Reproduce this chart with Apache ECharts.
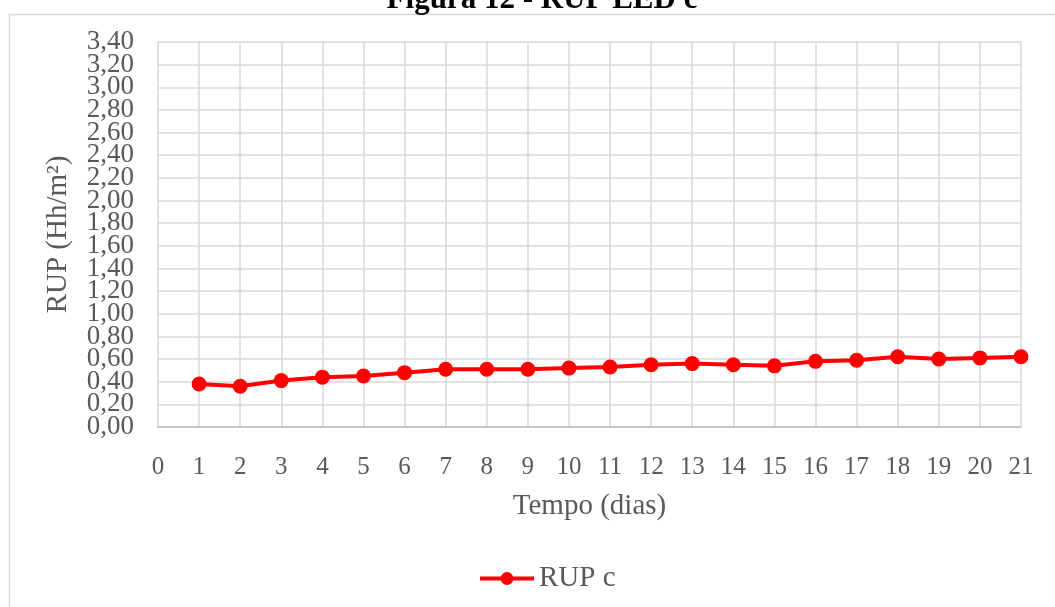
<!DOCTYPE html>
<html>
<head>
<meta charset="utf-8">
<script src="https://cdn.jsdelivr.net/npm/echarts@6/dist/echarts.min.js"></script>
<style>html,body{margin:0;padding:0;background:#fff;}#c{width:1055px;height:607px;}</style>
</head>
<body>
<div id="c"></div>
<script>
const days = [1,2,3,4,5,6,7,8,9,10,11,12,13,14,15,16,17,18,19,20,21];
const rupC = [0.38,0.36,0.41,0.44,0.45,0.48,0.51,0.51,0.51,0.52,0.53,0.55,0.56,0.55,0.54,0.58,0.59,0.62,0.60,0.61,0.62];
const seriesName = 'RUP c';
const titleText = 'Figura 12 - RUP LED c';
const xName = 'Tempo (dias)';
const yName = 'RUP (Hh/m²)';

const font = '"Liberation Serif","Times New Roman",serif';
const fmt = v => v.toFixed(2).replace('.', ',');
const yLabel = {
  fontFamily: font, fontSize: 27, color: '#595959', margin: 24, formatter: fmt
};
const chart = echarts.init(document.getElementById('c'));
chart.setOption({
  animation: false,
  backgroundColor: '#fff',
  graphic: [{
    type: 'rect', left: 7, top: 12, z: -1,
    shape: { width: 1100, height: 700 },
    style: { fill: 'none', stroke: '#d9d9d9', lineWidth: 1.5 }
  }],
  title: {
    text: titleText, left: 537, textAlign: 'center', top: -21,
    textStyle: { fontFamily: font, fontSize: 31, fontWeight: 'bold', color: '#000' }
  },
  grid: { left: 158, right: 34, top: 42, bottom: 180 },
  legend: {
    bottom: 9, left: 473,
    itemWidth: 54, itemHeight: 16, itemGap: 4,
    lineStyle: { width: 4 },
    textStyle: { fontFamily: font, fontSize: 29, color: '#595959' },
    data: [seriesName]
  },
  xAxis: {
    type: 'value', min: 0, max: 21, interval: 1,
    name: xName, nameLocation: 'middle', nameGap: 65,
    nameTextStyle: { fontFamily: font, fontSize: 29, color: '#595959' },
    axisLine: { show: true, lineStyle: { color: '#bfbfbf', width: 1.5 } },
    axisTick: { show: false },
    splitLine: { show: true, lineStyle: { color: '#d9d9d9', width: 1.5 } },
    axisLabel: { fontFamily: font, fontSize: 25, color: '#595959', margin: 28, showMinLabel: true, showMaxLabel: true }
  },
  yAxis: [{
    type: 'value', min: 0, max: 3.4, interval: 0.2, position: 'left',
    name: yName, nameLocation: 'middle', nameGap: 85,
    nameTextStyle: { fontFamily: font, fontSize: 29, color: '#595959' },
    axisLine: { show: false },
    axisTick: { show: false },
    splitLine: { show: true, lineStyle: { color: '#d9d9d9', width: 1.5 } },
    axisLabel: Object.assign({ showMinLabel: false, showMaxLabel: false }, yLabel)
  }, {
    type: 'value', min: 0, max: 3.4, interval: 3.4, position: 'left', offset: 0,
    axisLine: { show: false },
    axisTick: { show: false },
    splitLine: { show: false },
    axisLabel: Object.assign({ showMinLabel: true, showMaxLabel: true }, yLabel)
  }],
  series: [{
    name: seriesName, type: 'line',
    data: days.map((d, i) => [d, rupC[i]]),
    symbol: 'circle', symbolSize: 15,
    lineStyle: { color: '#ff0000', width: 4 },
    itemStyle: { color: '#ff0000' }
  }]
});
</script>
</body>
</html>
